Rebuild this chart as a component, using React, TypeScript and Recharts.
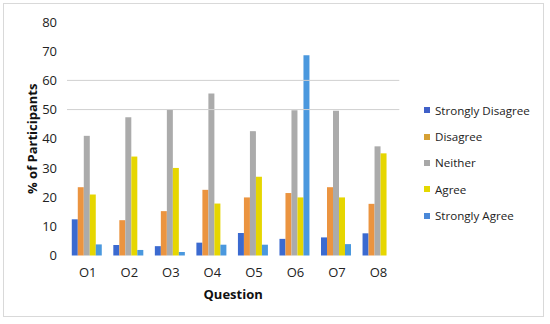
import { Bar, BarChart, ReferenceLine, XAxis, YAxis } from "recharts";

const questions = ["O1", "O2", "O3", "O4", "O5", "O6", "O7", "O8"];
const stronglyDisagree = [12.4, 3.6, 3.2, 4.4, 7.7, 5.7, 6.2, 7.6];
const disagree = [23.4, 12.1, 15.2, 22.5, 19.9, 21.4, 23.4, 17.7];
const neither = [41, 47.4, 50, 55.5, 42.6, 49.8, 49.6, 37.4];
const agree = [20.9, 33.9, 30, 17.8, 27, 19.9, 19.9, 35];
const stronglyAgree = [3.8, 1.9, 1.2, 3.7, 3.7, 68.6, 3.9, 0];
const yTicks = [0, 10, 20, 30, 40, 50, 60, 70, 80];
const gridValues = [50, 60];

const series = [
  { key: "sd", name: "Strongly Disagree", color: "#3b6ad0", swatch: "#4060c8" },
  { key: "d", name: "Disagree", color: "#eb9440", swatch: "#d6a034" },
  { key: "n", name: "Neither", color: "#ababab", swatch: "#a8a8a8" },
  { key: "a", name: "Agree", color: "#e6d600", swatch: "#e4d800" },
  { key: "sa", name: "Strongly Agree", color: "#4a98de", swatch: "#4a88d8" },
];

const data = questions.map((q, i) => ({
  q,
  sd: stronglyDisagree[i],
  d: disagree[i],
  n: neither[i],
  a: agree[i],
  sa: stronglyAgree[i],
}));

const font = "'Open Sans', sans-serif";

function LegendBox() {
  return (
    <div
      style={{
        position: "absolute",
        left: 424,
        top: 97,
        fontFamily: font,
        fontSize: 11.6,
        color: "#222",
      }}
    >
      {series.map((s) => (
        <div
          key={s.key}
          style={{ display: "flex", alignItems: "center", height: 26.4 }}
        >
          <span
            style={{
              width: 6,
              height: 6,
              background: s.swatch,
              marginRight: 5,
              display: "inline-block",
            }}
          />
          <span>{s.name}</span>
        </div>
      ))}
    </div>
  );
}

export default function App() {
  return (
    <div
      style={{
        position: "absolute",
        left: 0,
        top: 0,
        width: 550,
        height: 324,
        background: "#fff",
      }}
    >
      <div
        style={{
          position: "absolute",
          left: 3,
          top: 3,
          width: 541,
          height: 314,
          border: "1px solid #d9d9d9",
          boxSizing: "border-box",
        }}
      />
      <BarChart
        width={550}
        height={324}
        data={data}
        margin={{ top: 22, right: 150.7, bottom: 28.5, left: 8 }}
        barCategoryGap="11.5%"
        barGap={0}
        style={{ position: "absolute", left: 0, top: 0 }}
      >
        {gridValues.map((v) => (
          <ReferenceLine key={v} y={v} stroke="#d0d0d0" strokeWidth={1} />
        ))}
        <XAxis
          dataKey="q"
          height={40}
          axisLine={false}
          tickLine={false}
          tickMargin={6}
          tick={{ fontSize: 13, fill: "#222", fontFamily: font }}
          label={{
            value: "Question",
            position: "insideBottom",
            offset: -3,
            fontSize: 13,
            fontWeight: "bold",
            fill: "#111",
            fontFamily: font,
          }}
        />
        <YAxis
          width={59}
          domain={[0, 80]}
          ticks={yTicks}
          interval={0}
          axisLine={false}
          tickLine={false}
          tickMargin={4}
          tick={{ fontSize: 13, fill: "#222", fontFamily: font }}
          label={{
            value: "% of Participants",
            angle: -90,
            position: "insideLeft",
            offset: 24,
            fontSize: 13,
            fontWeight: "bold",
            fill: "#111",
            fontFamily: font,
            style: { textAnchor: "middle" },
          }}
        />
        {series.map((s) => (
          <Bar
            key={s.key}
            dataKey={s.key}
            name={s.name}
            fill={s.color}
            isAnimationActive={false}
          />
        ))}
      </BarChart>
      <LegendBox />
    </div>
  );
}
